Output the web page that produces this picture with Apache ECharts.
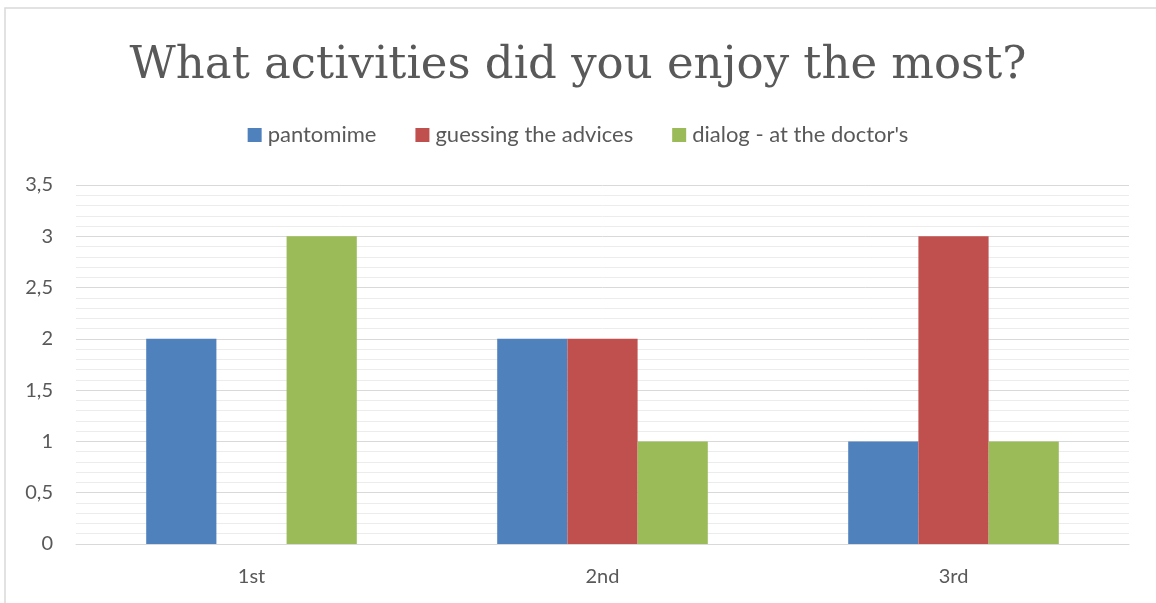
<!DOCTYPE html>
<html>
<head>
<meta charset="utf-8">
<script src="https://cdn.jsdelivr.net/npm/echarts@6/dist/echarts.min.js"></script>
<style>
html, body { margin: 0; padding: 0; background: #fff; }
#main { width: 1156px; height: 603px; }
</style>
</head>
<body>
<div id="main"></div>
<script>
var categories = ['1st', '2nd', '3rd'];
var pantomime = [2, 2, 1];
var guessing = [0, 2, 3];
var dialog = [3, 1, 1];
var seriesNames = ['pantomime', 'guessing the advices', "dialog - at the doctor's"];

var chart = echarts.init(document.getElementById('main'));
var option = {
    backgroundColor: '#fff',
    color: ['#4F81BD', '#C0504D', '#9BBB59'],
    animation: false,
    title: {
        text: 'What activities did you enjoy the most?',
        left: 'center',
        top: 39,
        textStyle: {
            fontFamily: 'DejaVu Serif',
            fontWeight: 'normal',
            fontSize: 45,
            color: '#595959'
        }
    },
    legend: {
        top: 119,
        left: 'center',
        itemWidth: 14,
        itemHeight: 14,
        itemGap: 39,
        icon: 'rect',
        textStyle: { fontFamily: 'Lato', fontSize: 22, color: '#595959', padding: [0, 0, 0, 1] },
        data: seriesNames
    },
    graphic: [{
        type: 'rect',
        shape: { x: 5, y: 8, width: 1200, height: 700 },
        style: { fill: 'none', stroke: '#d9d9d9', lineWidth: 1.5 },
        silent: true
    }],
    grid: { left: 76, right: 27, top: 185, bottom: 59 },
    xAxis: {
        type: 'category',
        data: categories,
        axisTick: { show: false },
        axisLine: { lineStyle: { color: '#d9d9d9' } },
        axisLabel: { fontFamily: 'Lato', fontSize: 20, color: '#595959', margin: 23 }
    },
    yAxis: {
        type: 'value',
        min: 0,
        max: 3.5,
        interval: 0.5,
        axisLine: { show: false },
        axisTick: { show: false },
        axisLabel: {
            fontFamily: 'Lato', fontSize: 20, color: '#595959', margin: 23,
            formatter: function (v) { return String(v).replace('.', ','); }
        },
        splitLine: { lineStyle: { color: '#d9d9d9', width: 1 } },
        minorTick: { show: false, splitNumber: 5 },
        minorSplitLine: { show: true, lineStyle: { color: '#ececec', width: 1 } }
    },
    series: [
        { name: seriesNames[0], type: 'bar', data: pantomime, barGap: '0%', barCategoryGap: '40%' },
        { name: seriesNames[1], type: 'bar', data: guessing, barGap: '0%', barCategoryGap: '40%' },
        { name: seriesNames[2], type: 'bar', data: dialog, barGap: '0%', barCategoryGap: '40%' }
    ]
};
chart.setOption(option);
</script>
</body>
</html>
